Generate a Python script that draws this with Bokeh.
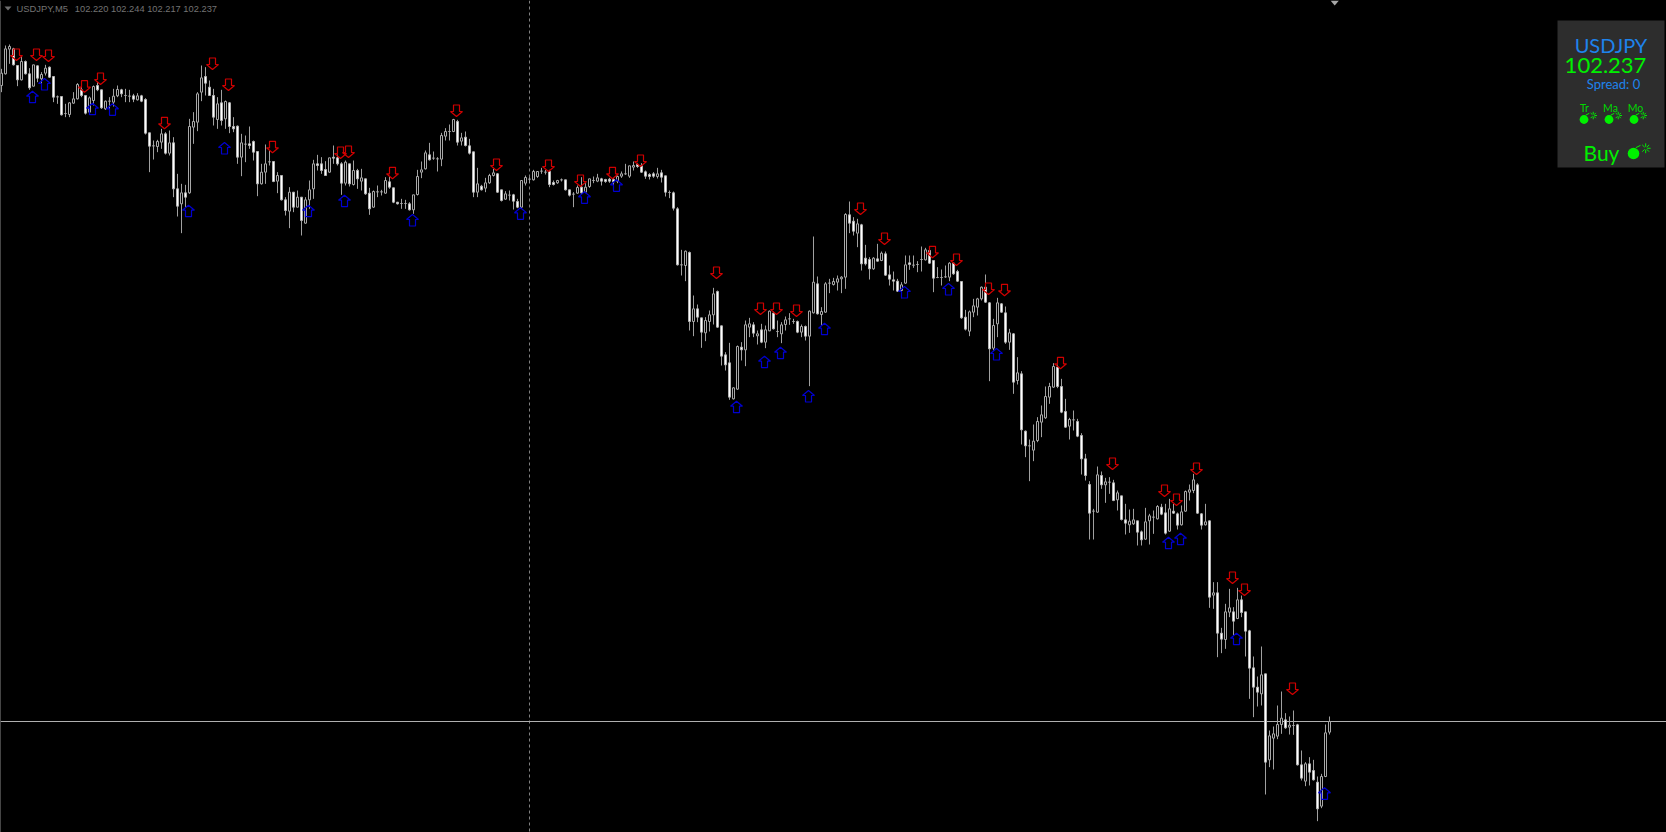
from bokeh.plotting import figure, curdoc
from bokeh.embed import file_html
from bokeh.resources import INLINE
from bokeh.core.properties import value
from bokeh.models import Range1d, CustomJS

# USDJPY M5 candles. Each block lists levels as a drop (in half-points, 0.0005 yen)
# below that block's reference price.
ref_a = 103.3185
open_a = [255,220,146,145,195,238,183,220,257,196, 235,218,200,228,289,288,339,342,308,295,
          268,285,335,300,255,268,325,302,305,286, 268,285,287,286,298,286,297,397,436,438,
          425,400,458,427,565,610,577,577,380,365, 275,228,260,285,357,307,355,307,378,377,
          470,431,430,423,453,550,515,484,483,542, 525,598,632,575,620,590,668,598,565,490,
          490,507,515,470,472,490,548,490,552,510, 542,535,578,620,574,574,578,544,562,605,
          609,609,610,628,582]
close_a = [218,145,138,193,238,183,220,262,193,233, 222,203,230,290,289,343,339,307,295,252,
           285,338,292,258,268,322,302,302,287,267, 280,285,287,296,286,302,398,437,436,423,
           400,458,427,565,617,577,590,378,363,280, 232,248,285,350,310,360,303,378,385,470,
           427,431,435,455,550,515,490,484,543,525, 598,630,575,620,590,660,598,568,490,495,
           510,525,472,473,490,548,485,550,510,535, 532,580,625,573,574,574,540,560,605,610,
           609,609,628,583,528]
high_a = [205,135,132,142,195,167,180,203,193,195, 215,193,198,228,285,288,310,305,275,248,
          250,285,288,255,245,268,300,290,265,255, 265,265,268,280,278,283,293,397,420,418,
          385,395,390,410,520,550,553,355,335,275, 195,200,240,265,290,268,300,305,350,375,
          400,405,378,420,452,490,432,450,483,515, 525,590,560,575,570,590,590,540,478,463,
          470,482,472,435,462,485,480,490,480,505, 505,535,562,570,555,568,530,528,562,605,
          595,598,605,583,508]
low_a = [275,222,190,195,257,240,222,268,258,245, 255,225,232,305,310,345,350,350,310,297,
         290,342,340,315,272,325,328,340,318,290, 290,305,305,305,300,305,402,515,477,455,
         445,462,465,590,648,698,620,580,430,392, 302,285,285,375,385,375,385,398,395,490,
         527,485,445,480,587,552,550,495,545,578, 600,645,683,635,620,705,670,625,595,510,
         520,525,517,490,495,583,555,558,555,565, 570,583,643,622,590,585,580,565,608,612,
         625,625,630,640,585]

ref_b = 103.1835
open_b = [245,235,193,203,205,206,137,123,123,93, 152,140,166,184,305,287,293,277,255,250,
          298,326,314,313,333,350,278,266,268,258, 242,245,243,276,277,268,268,298,311,308,
          290,305,288,270,272,265,267,266,267,272, 257,250,257,230,222,226,244,252,250,258,
          247,256,306,307]
close_b = [238,187,208,203,205,135,123,123,87,155, 142,165,188,305,280,298,277,255,247,305,
           330,310,314,332,350,270,261,266,243,243, 242,245,282,282,270,268,298,314,311,291,
           307,290,265,270,262,272,273,272,274,258, 250,250,226,225,228,245,257,258,257,250,
           260,305,306,353]
high_b = [213,180,157,183,200,127,113,102,85,88, 127,123,145,184,232,283,262,250,235,248,
          298,302,300,310,325,270,255,260,238,243, 232,238,238,270,268,264,268,298,305,285,
          260,278,265,258,250,262,265,262,262,255, 243,220,226,213,217,218,240,248,245,232,
          238,256,300,303]
low_b = [263,237,210,208,243,227,150,150,125,165, 165,168,192,320,320,300,305,280,258,307,
         333,328,330,357,353,352,285,278,270,262, 250,252,290,285,280,273,300,318,350,310,
         310,308,292,278,275,285,277,277,285,278, 262,253,262,240,232,247,265,267,262,264,
         276,318,323,360]

ref_c = 103.0335
open_c = [55,223,225,186,393,355,382,427,393,373, 303,406,493,517,625,596,470,478,410,403,
          436,418,455,421,368,423,430,402,385,393, 393,425,408,437,367,280,372,365,278,282,
          275,265,260,73,92,128,103,203,207,235, 205,210,190,253,268,272,300,278,217,224,
          222,207,208,180,210,261,261,259,260,218, 243,273,380,422,365,350,325,290,337,473,
          400,340,367,455,430,570]
close_c = [223,223,182,393,355,380,425,390,373,310, 410,497,523,620,592,468,478,403,400,428,
           430,455,418,362,415,423,403,388,385,393, 425,408,437,362,275,370,363,280,278,273,
           265,260,72,98,122,100,220,220,235,203, 212,188,254,266,272,302,283,223,222,224,
           222,207,178,218,263,261,261,259,218,250, 272,382,416,364,346,325,290,335,475,405,
           337,365,455,427,575,547]
high_c = [50,178,180,183,315,342,382,380,360,292, 300,405,485,457,590,465,455,390,382,395,
          420,400,405,360,363,390,395,378,368,385, 390,402,405,360,138,258,350,275,265,262,
          255,257,68,33,80,85,100,163,200,200, 160,183,183,225,243,265,275,195,195,195,
          212,168,172,170,210,230,237,225,215,215, 238,273,358,360,325,322,288,252,335,385,
          322,338,348,415,428,500]
low_c = [225,255,272,420,437,395,472,452,423,402, 412,525,540,628,627,598,510,527,440,440,
         462,458,473,422,417,440,458,420,403,400, 428,440,450,587,369,372,405,367,308,285,
         300,308,295,128,135,170,240,225,267,238, 213,212,256,285,300,304,323,280,238,232,
         245,243,210,220,305,263,285,262,272,253, 274,385,420,437,380,375,330,337,572,480,
         440,367,460,478,610,582]

ref_d = 102.8085
open_d = [100,272,316,329,300,245,232,170,140,80, 138,213,257,238,243,285,355,432,512,515,
          405,433,425,427,478,466,538,553,550,541, 574,596,541,530,535,500,517,572,512,520,
          553,512,455,450,433,520,553,541,764,757, 878,897,815,814,834,778,814,871,982,1040,
          1060,1000,1258,1193,1187,1152,1138,1160,1155,1153, 1273,1322,1270,1290,1325,1397,1308,1175]
close_d = [268,316,316,302,243,223,168,138,78,138, 215,260,237,238,287,355,405,518,512,403,
           433,424,425,480,457,537,548,542,538,575, 598,544,526,530,498,521,578,505,518,554,
           514,453,448,418,518,554,544,770,757,878, 896,814,802,842,778,816,872,983,1040,1055,
           1003,1265,1186,1180,1152,1133,1162,1154,1155,1273, 1313,1270,1295,1318,1405,1308,1177,1143]
high_d = [92,270,297,252,230,195,138,127,68,72, 115,175,232,210,235,278,340,422,505,378,
          393,412,410,418,450,466,490,507,505,541, 570,502,520,510,494,490,490,475,490,516,
          495,450,432,400,428,518,490,540,725,725, 862,790,745,800,742,765,814,868,948,1008,
          918,1000,1170,1158,1095,1053,1118,1128,1110,1150, 1230,1265,1250,1258,1308,1300,1152,1128]
low_d = [312,350,422,362,305,290,235,190,142,143, 218,262,297,270,290,402,420,597,597,517,
         445,487,460,482,510,540,582,577,553,615, 615,598,612,580,537,524,582,574,520,567,
         555,514,480,458,520,567,555,802,805,950, 938,925,830,885,836,830,948,1075,1130,1098,
         1095,1362,1280,1287,1196,1180,1165,1182,1183,1275, 1320,1337,1335,1320,1442,1403,1310,1182]

# signal arrows: bar index and arrow-tip level, same units per block
down_bar_a = [3,8,11,20,24,40,52,56,67,84,86,97]
down_tip_a = [180,180,183,275,252,385,207,270,457,474,471,535]
up_bar_a = [7,10,22,27,46,55,76,85,102]
up_tip_a = [272,234,308,310,614,426,614,584,642]
down_bar_b = [113,123,136,144,152,159]
down_tip_b = [78,240,243,288,265,228]
up_bar_b = [129,145,153]
up_tip_b = [352,304,268]
down_bar_c = [178,189,193,198,214,220,232,238,246,250,264]
down_tip_c = [264,372,372,378,72,162,202,225,312,316,535]
up_bar_c = [183,190,194,201,205,225,236,248]
up_tip_c = [632,497,470,600,398,288,279,474]
down_bar_d = [277,290,293,298,307,310,322]
down_tip_d = [387,468,495,402,729,765,1062]
up_bar_d = [291,294,308,330]
up_tip_d = [590,578,878,1342]

bid_price = 102.237
symbol = "USDJPY"
header_symbol = "USDJPY,M5"
header_ohlc = "102.220 102.244 102.217 102.237"
panel_price = "102.237"
spread_text = "Spread: 0"
signal_labels = ["Tr", "Ma", "Mo"]
signal_word = "Buy"

# ---- scales (Bokeh's SVG canvas sits half a pixel off, so whole pixels draw crisp)
W, H = 1666, 832
PXP = 0.0015            # yen per screen pixel
def pr(y):              # page y pixel -> price
    return 102 + (2637 - 3 * y) / 2000
def ix(x):              # page x pixel -> bar index
    return (x - 1) / 4

p = figure(width=W, height=H, output_backend="svg", toolbar_location=None,
           x_range=Range1d(ix(0), ix(W)), y_range=Range1d(pr(H), pr(0)),
           x_axis_type=None, y_axis_type=None, min_border=0,
           background_fill_color="#000000", border_fill_color="#000000",
           outline_line_color=None, title=None)
p.grid.visible = False

blocks = [(ref_a, open_a, high_a, low_a, close_a), (ref_b, open_b, high_b, low_b, close_b),
          (ref_c, open_c, high_c, low_c, close_c), (ref_d, open_d, high_d, low_d, close_d)]
O, Hi, Lo, C = [], [], [], []
for ref, o, h, l, c in blocks:
    assert len(o) == len(h) == len(l) == len(c), (len(o), len(h), len(l), len(c))
    O += [ref - v * 0.0005 for v in o]
    Hi += [ref - v * 0.0005 for v in h]
    Lo += [ref - v * 0.0005 for v in l]
    C += [ref - v * 0.0005 for v in c]
bars = list(range(len(O)))

# chart furniture
p.segment([ix(0)], [pr(0)], [ix(0)], [pr(832)], line_color="#8a8a8a", line_width=1)
p.segment([ix(529)], [pr(0)], [ix(529)], [pr(832)], line_color="#808080", line_width=1, line_dash="3 3")
p.segment([ix(0)], [bid_price], [ix(1666)], [bid_price], line_color="#b0b0b0", line_width=1)

# candles
wick = "#a0a0a0"
p.segment(bars, Lo, bars, Hi, line_color=wick, line_width=1)
bull = [i for i in bars if C[i] >= O[i]]
bear = [i for i in bars if C[i] < O[i]]
p.vbar([bars[i] for i in bull], width=0.5, bottom=[O[i] for i in bull], top=[C[i] for i in bull],
       fill_color="#000000", line_color="#a8a8a8", line_width=1)
p.vbar([bars[i] for i in bear], width=0.5, bottom=[C[i] for i in bear], top=[O[i] for i in bear],
       fill_color="#ffffff", line_color="#b4b4b4", line_width=1)

# arrows (hollow outline, size in screen pixels around the tip)
XU = 1 / 4
shape = [(0, 0), (-6, 5), (-3, 5), (-3, 11.5), (3, 11.5), (3, 5), (6, 5)]
def arrows(bar_lists, tip_lists, refs, shift, sign, color):
    xs, ys = [], []
    for b, t, ref in zip(bar_lists, tip_lists, refs):
        for bi, ti in zip(b, t):
            tip = ref - ti * 0.0005
            xs.append([bi + shift + dx * XU for dx, dy in shape])
            ys.append([tip + sign * dy * PXP for dx, dy in shape])
    p.patches(xs, ys, fill_alpha=0, line_color=color, line_width=1.2)
refs = [ref_a, ref_b, ref_c, ref_d]
arrows([down_bar_a, down_bar_b, down_bar_c, down_bar_d], [down_tip_a, down_tip_b, down_tip_c, down_tip_d],
       refs, 0.75, +1, "#d00000")
arrows([up_bar_a, up_bar_b, up_bar_c, up_bar_d], [up_tip_a, up_tip_b, up_tip_c, up_tip_d],
       refs, 0.75, -1, "#0000d0")

# header
def label(x, y, txt, size, color, font, align="left"):
    p.text([ix(x)], [pr(y)], text=[txt], text_color=color, text_font=value(font),
           text_font_size=f"{size}px", text_align=align, text_baseline="middle")
label(16, 8, header_symbol, 9.4, "#737373", "Liberation Sans")
label(74.3, 8, header_ohlc, 9.3, "#737373", "Liberation Sans")
p.patch([ix(4), ix(11), ix(7.5)], [pr(6), pr(6), pr(10)], fill_color="#6e6e6e", line_color=None)

# top marker
p.patch([ix(1330), ix(1338.5), ix(1334.2)], [pr(0), pr(0), pr(5)], fill_color="#a8a8a8", line_color=None)

# info panel
p.quad(left=[ix(1557)], right=[ix(1664)], top=[pr(20)], bottom=[pr(167)], fill_color="#2d2d2d", line_color=None)
BLUE, GREEN = "#1e83ec", "#00f000"
label(1610.5, 44, symbol, 20, BLUE, "Lato", "center")
label(1605, 65, panel_price, 22, GREEN, "Lato", "center")
label(1613, 83, spread_text, 13, BLUE, "Lato", "center")
for cx, t in zip([1584, 1610, 1635], signal_labels):
    label(cx, 107, t, 10.5, "#00d800", "Lato", "center")
label(1601, 152, signal_word, 21, GREEN, "Lato", "center")

def bomb(cx, cy, r):
    p.scatter([ix(cx)], [pr(cy)], size=2 * r, marker="circle", fill_color=GREEN, line_color=None)
    p.segment([ix(cx + .4 * r)], [pr(cy - 1.0 * r)], [ix(cx + 1.2 * r)], [pr(cy - 1.4 * r)], line_color=GREEN, line_width=1)
    sx, sy = cx + 2.1 * r, cy - .9 * r
    for dx, dy in [(1, 0), (.7, -.7), (0, -1), (.7, .7), (0, 1), (-.7, -.7), (-.7, .7)]:
        p.segment([ix(sx + .25 * r * dx)], [pr(sy + .25 * r * dy)], [ix(sx + .85 * r * dx)], [pr(sy + .85 * r * dy)],
                  line_color=GREEN, line_width=1)
for cx in [1583.5, 1608.5, 1633.5]:
    bomb(cx, 119, 4.4)
bomb(1633, 153, 5.8)

curdoc().add_root(p)
curdoc().js_on_event("document_ready", CustomJS(code="document.body.style.background='#000';"))

open("out.html", "w").write(file_html(p, INLINE, title="USDJPY,M5"))
